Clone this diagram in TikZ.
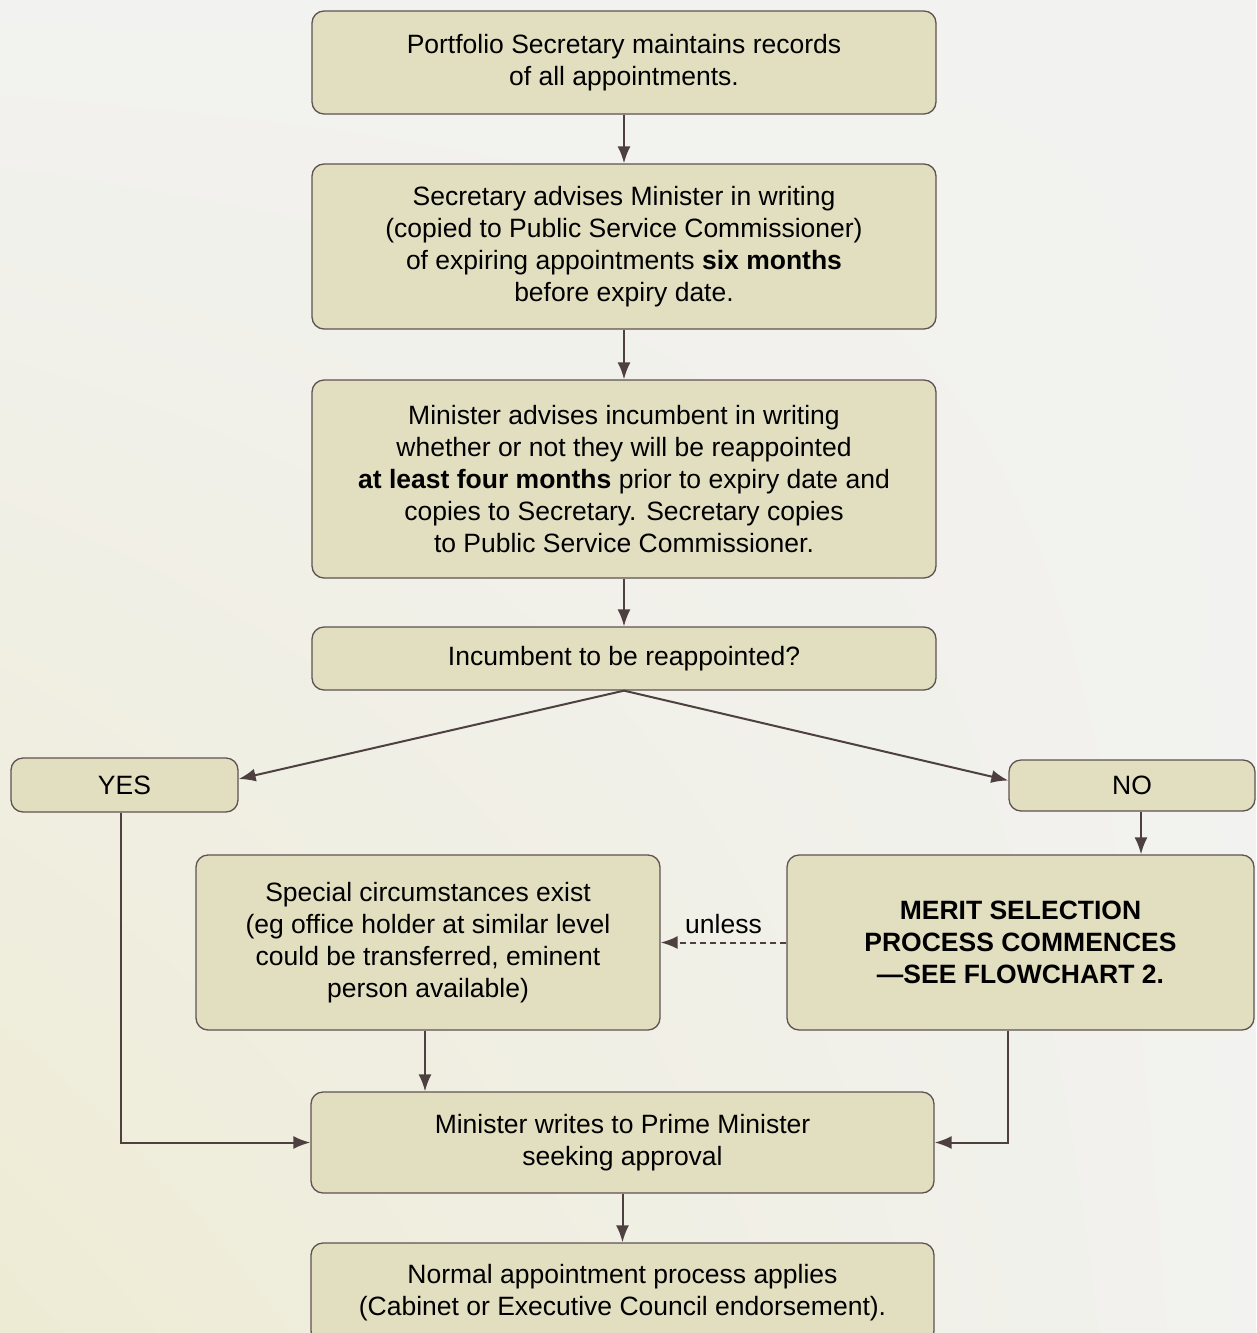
\documentclass[tikz,border=0pt]{standalone}
\usepackage{fontspec}
\setmainfont{Liberation Sans}
\usetikzlibrary{arrows.meta,shadings}
\definecolor{boxfill}{RGB}{226,222,192}
\definecolor{boxline}{RGB}{96,82,82}
\definecolor{arrowcol}{RGB}{78,64,64}
\definecolor{bgbeige}{RGB}{238,235,212}
\definecolor{bggrey}{RGB}{242,242,240}
\begin{document}
\begin{tikzpicture}[x=1pt, y=-1pt, >={Latex[length=17pt,width=13pt]},
  box/.style={draw=boxline, fill=boxfill, line width=1.3pt, rounded corners=12pt, inner sep=0pt, align=center, font=\fontsize{26.5}{32}\selectfont},
  flow/.style={->, draw=arrowcol, line width=2pt}]
\useasboundingbox (0,0) rectangle (1256,1333);
\shade[upper left=bggrey, upper right=bggrey, lower left=bgbeige, lower right=bggrey] (0,0) rectangle (1256,1333);
\node[box, minimum width=624pt, minimum height=103pt] (rec) at (624,62.5) {Portfolio Secretary maintains records\\of all appointments.};
\node[box, minimum width=624pt, minimum height=165pt] (adv) at (624,246.5) {Secretary advises Minister in writing\\(copied to Public Service Commissioner)\\of expiring appointments \textbf{six months}\\before expiry date.};
\node[box, minimum width=624pt, minimum height=198pt] (inc) at (624,479) {Minister advises incumbent in writing\\whether or not they will be reappointed\\\textbf{at least four months} prior to expiry date and\\copies to Secretary. Secretary copies\\to Public Service Commissioner.};
\node[box, minimum width=624pt, minimum height=63pt] (q) at (624,658.5) {Incumbent to be reappointed?};
\node[box, minimum width=227pt, minimum height=54pt] (yes) at (124.5,785) {YES};
\node[box, minimum width=246pt, minimum height=51pt] (no) at (1132,785.5) {NO};
\node[box, minimum width=464pt, minimum height=175pt] (spec) at (428,942.5) {Special circumstances exist\\(eg office holder at similar level\\could be transferred, eminent\\person available)};
\node[box, minimum width=467pt, minimum height=175pt, font=\fontsize{26.5}{32}\selectfont\bfseries] (merit) at (1020.5,942.5) {MERIT SELECTION\\PROCESS COMMENCES\\—SEE FLOWCHART 2.};
\node[box, minimum width=623pt, minimum height=101pt] (pm) at (622.5,1142.5) {Minister writes to Prime Minister\\seeking approval};
\node[box, minimum width=623pt, minimum height=100pt] (norm) at (622.5,1293) {Normal appointment process applies\\(Cabinet or Executive Council endorsement).};
\draw[flow] (rec) -- (adv);
\draw[flow] (adv) -- (inc);
\draw[flow] (inc) -- (q);
\draw[flow] (q.south) -- ([yshift=6pt]yes.east);
\draw[flow] (q.south) -- ([yshift=5pt]no.west);
\draw[flow] ([xshift=9pt]no.south) -- ([xshift=9pt]no.south |- merit.north);
\draw[flow] ([xshift=-3.5pt]yes.south) |- (pm.west);
\draw[flow] ([xshift=-3pt]spec.south) -- ([xshift=-3pt]spec.south |- pm.north);
\draw[flow] ([xshift=-13pt]merit.south) |- (pm.east);
\draw[flow] (pm) -- (norm);
\draw[flow, dash pattern=on 6pt off 4pt] (merit.west) -- node[above=4pt, font=\fontsize{26.5}{32}\selectfont]{unless} (spec.east);
\end{tikzpicture}
\end{document}
